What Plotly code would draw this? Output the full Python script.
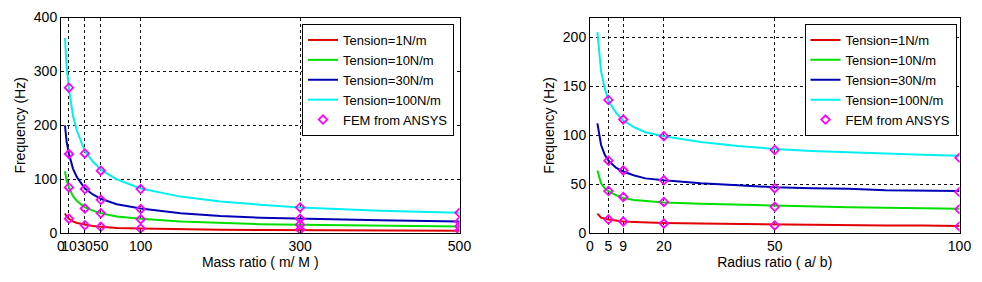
import plotly.graph_objects as go

# ---------- Left chart: frequency vs mass ratio ----------
mass_x = [5, 7, 10, 15, 20, 30, 40, 50, 70, 100, 150, 200, 250, 300, 400, 500]
mass_t1 = [37, 31, 27, 22, 19, 16, 13.5, 12, 10, 9, 7.5, 6.5, 6, 5.5, 5, 4.5]
mass_t10 = [115, 98, 85, 69, 60, 48, 42, 37, 31, 27, 22, 19, 17, 16, 14, 12.5]
mass_t30 = [200, 170, 147, 120, 104, 83, 72, 64, 54, 46, 37, 32, 29, 27, 24, 22]
mass_t100 = [362, 310, 268, 218, 190, 152, 133, 118, 100, 83, 68, 59, 53, 48, 42, 38]

fem_mass_x = [10, 30, 50, 100, 300, 500]
fem_mass_t1 = [27, 15, 12, 9, 7, 5]
fem_mass_t10 = [85, 46, 37, 26, 16, 13]
fem_mass_t30 = [147, 82, 62, 45, 27, 22]
fem_mass_t100 = [270, 148, 116, 82, 48, 38]

mass_ticks = [0, 10, 30, 50, 100, 300, 500]
mass_yticks = [0, 100, 200, 300, 400]

# ---------- Right chart: frequency vs radius ratio ----------
rad_x = [2, 3, 4, 5, 7, 9, 12, 15, 20, 30, 40, 50, 60, 70, 80, 90, 100]
rad_t1 = [20, 16, 15, 14, 13, 12, 11.5, 11, 10.5, 10, 9.5, 9, 8.5, 8.5, 8, 8, 7.5]
rad_t10 = [64, 51, 46, 43, 39, 36, 34, 33, 31.5, 30, 29, 28, 27, 26.5, 26, 25.5, 25]
rad_t30 = [112, 90, 80, 74, 67, 63, 59, 56, 54, 51, 49, 47, 46, 45.5, 44, 43.5, 43]
rad_t100 = [205, 165, 148, 135, 123, 115, 108, 103, 99, 93, 89, 86, 84, 82.5, 81, 80, 79]

fem_rad_x = [5, 9, 20, 50, 100]
fem_rad_t1 = [14, 12, 10, 8, 7]
fem_rad_t10 = [43, 37, 32, 27, 24.5]
fem_rad_t30 = [74, 64, 54, 46, 42]
fem_rad_t100 = [136, 116, 99, 85, 77]

rad_ticks = [0, 5, 9, 20, 50, 100]
rad_yticks = [0, 50, 100, 150, 200]

names = ["Tension=1N/m", "Tension=10N/m", "Tension=30N/m", "Tension=100N/m"]
colors = ["#e00000", "#00e000", "#0000b4", "#00f0f0"]
FONT = "Arial, Liberation Sans, sans-serif"

fig = go.Figure()


def add_panel(xs, series, fx, fseries, xaxis, yaxis, legend):
    for name, ys, c in zip(names, series, colors):
        fig.add_trace(go.Scatter(x=xs, y=ys, mode="lines", name=name,
                                 line=dict(color=c, width=2),
                                 xaxis=xaxis, yaxis=yaxis, legend=legend))
    for i, fy in enumerate(fseries):
        fig.add_trace(go.Scatter(x=fx, y=fy, mode="markers", name="FEM from ANSYS",
                                 marker=dict(symbol="diamond-open", size=6.5,
                                             color="#ff00ff", line=dict(width=1.8, color="#ff00ff")),
                                 showlegend=(i == 0), xaxis=xaxis, yaxis=yaxis,
                                 legend=legend))


add_panel(mass_x, [mass_t1, mass_t10, mass_t30, mass_t100], fem_mass_x,
          [fem_mass_t1, fem_mass_t10, fem_mass_t30, fem_mass_t100], "x", "y", "legend")
add_panel(rad_x, [rad_t1, rad_t10, rad_t30, rad_t100], fem_rad_x,
          [fem_rad_t1, fem_rad_t10, fem_rad_t30, fem_rad_t100], "x2", "y2", "legend2")

W, H = 982, 282
OFF = 8  # page body margin offset
ydom = [1 - (233.3 - OFF) / H, 1 - (17.5 - OFF) / H]

axis_common = dict(showline=True, linecolor="black", linewidth=1, mirror=True,
                   showgrid=True, gridcolor="#111111", gridwidth=1, griddash="3px,3px",
                   zeroline=False, ticks="inside", ticklen=3, tickcolor="black",
                   tickangle=0,
                   tickfont=dict(family=FONT, size=14, color="black"),
                   automargin=False)

legend_common = dict(bgcolor="white", bordercolor="black", borderwidth=1,
                     font=dict(family=FONT, size=13, color="black"),
                     xanchor="right", yanchor="top", tracegroupgap=0,
                     itemwidth=30)

TF = dict(family=FONT, size=14, color="black")

fig.update_layout(
    width=W, height=H,
    margin=dict(l=0, r=0, t=0, b=0),
    paper_bgcolor="white", plot_bgcolor="white",
    font=dict(family=FONT, size=13, color="black"),
    xaxis=dict(axis_common, domain=[(61 - OFF) / W, (459.5 - OFF) / W], range=[0, 500],
               tickmode="array", tickvals=mass_ticks, ticktext=[str(v) for v in mass_ticks],
               title=dict(text="Mass ratio ( m/ M )", standoff=2, font=TF), anchor="y"),
    yaxis=dict(axis_common, domain=ydom, range=[0, 400],
               tickmode="array", tickvals=mass_yticks,
               title=dict(text="Frequency (Hz)", standoff=4, font=TF), anchor="x"),
    xaxis2=dict(axis_common, domain=[(590 - OFF) / W, (959.5 - OFF) / W], range=[0, 100],
                tickmode="array", tickvals=rad_ticks,
                title=dict(text="Radius ratio ( a/ b)", standoff=2, font=TF), anchor="y2"),
    yaxis2=dict(axis_common, domain=ydom, range=[0, 220],
                tickmode="array", tickvals=rad_yticks,
                title=dict(text="Frequency (Hz)", standoff=4, font=TF), anchor="x2"),
    legend=dict(legend_common, x=(454 - OFF) / W, y=1 - (24 - OFF) / H),
    legend2=dict(legend_common, x=(956.5 - OFF) / W, y=1 - (24 - OFF) / H),
)

fig.write_html("out.html")
